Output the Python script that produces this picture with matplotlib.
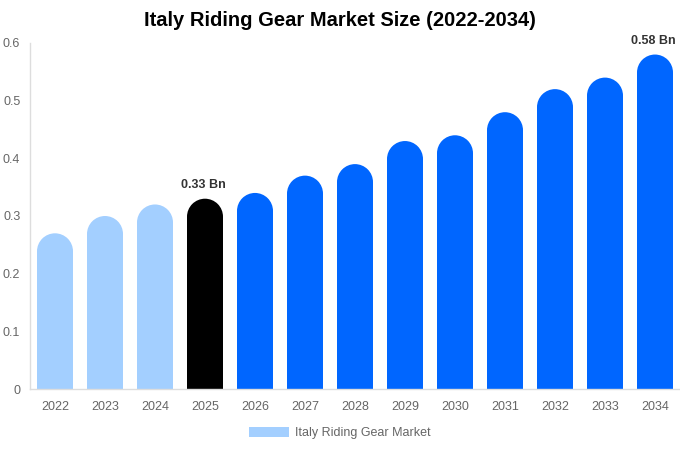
import matplotlib
matplotlib.use("Agg")
import matplotlib.pyplot as plt
from matplotlib.patches import Rectangle, Ellipse, Patch

plt.rcParams['font.family'] = ['Liberation Sans', 'DejaVu Sans']

years = ["2022", "2023", "2024", "2025", "2026", "2027", "2028", "2029", "2030", "2031", "2032", "2033", "2034"]
values = [0.27, 0.30, 0.32, 0.33, 0.34, 0.37, 0.39, 0.43, 0.44, 0.48, 0.52, 0.54, 0.58]
colors = ["#A3CFFF"] * 3 + ["#000000"] + ["#0066FF"] * 9
labels = {3: "0.33 Bn", 12: "0.58 Bn"}
yticks = [0, 0.1, 0.2, 0.3, 0.4, 0.5, 0.6]
ytick_labels = ["0", "0.1", "0.2", "0.3", "0.4", "0.5", "0.6"]

fig = plt.figure(figsize=(6.8, 4.5), dpi=100)
ax = fig.add_axes([30/680, 61/450, 650/680, 346/450])
ax.set_xlim(-0.5, len(years) - 0.5)
ax.set_ylim(0, 0.6)

bw = 0.72
ax_h_px = 346
r_px = bw * 50 / 2
r_data = r_px / ax_h_px * 0.6
for i, (v, c) in enumerate(zip(values, colors)):
    ax.add_patch(Rectangle((i - bw/2, 0), bw, v - r_data, facecolor=c, edgecolor='none'))
    ax.add_patch(Ellipse((i, v - r_data), bw, 2*r_data, facecolor=c, edgecolor='none'))
    if i in labels:
        ax.text(i - 0.04, v + 0.013, labels[i], ha='center', va='bottom', fontsize=9,
                fontweight='bold', color='#333333')

ax.set_xticks(range(len(years)))
ax.set_xticklabels(years)
ax.set_yticks(yticks)
ax.set_yticklabels(ytick_labels)
ax.tick_params(axis='both', length=0, labelsize=9, colors='#666666')
ax.tick_params(axis='x', pad=9)
ax.tick_params(axis='y', pad=7)
for s in ['top', 'right']:
    ax.spines[s].set_visible(False)
for s in ['left', 'bottom']:
    ax.spines[s].set_color('#DDDDDD')
    ax.spines[s].set_linewidth(1)

fig.text(0.5, 1 - 21/450, "Italy Riding Gear Market Size (2022-2034)", ha='center', va='center',
         fontsize=14.5, fontweight='bold', color='#000000')

leg = fig.legend(handles=[Patch(facecolor="#A3CFFF", edgecolor='none', label="Italy Riding Gear Market")],
                 loc='center', bbox_to_anchor=(0.5, (450-433)/450), frameon=False,
                 fontsize=9, handlelength=3.2, handleheight=0.9, handletextpad=0.5)
for t in leg.get_texts():
    t.set_color('#666666')

fig.savefig("out.png", dpi=100)
